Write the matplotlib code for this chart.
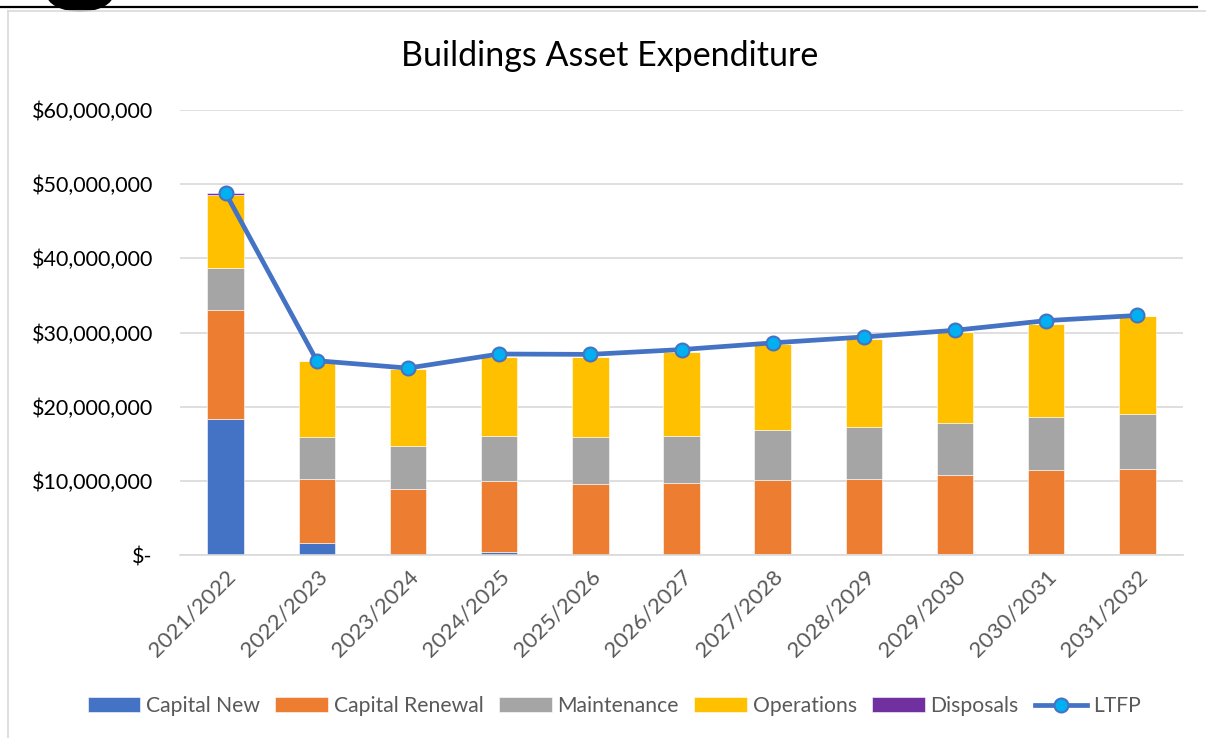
import numpy as np
import matplotlib
matplotlib.use("Agg")
from matplotlib import pyplot as plt
from matplotlib.patches import Ellipse
from matplotlib.lines import Line2D
from matplotlib.ticker import FuncFormatter

plt.rcParams['font.family'] = ['Lato', 'DejaVu Sans']

# values in $ millions
years = ['2021/2022', '2022/2023', '2023/2024', '2024/2025', '2025/2026', '2026/2027',
         '2027/2028', '2028/2029', '2029/2030', '2030/2031', '2031/2032']
capital_new = [18.3, 1.66, 0.05, 0.4, 0.05, 0.05, 0.15, 0.2, 0.2, 0.2, 0.2]
capital_renewal = [14.8, 8.6, 8.8, 9.6, 9.55, 9.7, 10.0, 10.1, 10.6, 11.2, 11.45]
maintenance = [5.6, 5.7, 5.85, 6.1, 6.3, 6.35, 6.65, 6.9, 7.05, 7.25, 7.4]
operations = [9.9, 10.15, 10.4, 10.6, 10.8, 11.3, 11.6, 11.9, 12.25, 12.55, 13.15]
disposals = [0.2, 0, 0, 0, 0, 0, 0, 0, 0, 0, 0]
ltfp = [48.8, 26.2, 25.2, 27.1, 27.05, 27.7, 28.6, 29.4, 30.3, 31.6, 32.3]

W, H = 1206, 738
fig = plt.figure(figsize=(W / 100, H / 100), dpi=100)

# page decorations around the pasted chart
fig.add_artist(Line2D([0, 1197 / W], [1 - 6.5 / H] * 2, color='black', lw=1.6))
fig.add_artist(Ellipse((80 / W, 1 + 6 / H), 66 / W, 34 / H, color='black'))
fig.add_artist(Line2D([8 / W, 1], [1 - 11 / H] * 2, color='#D9D9D9', lw=1.2))
fig.add_artist(Line2D([8 / W, 8 / W], [0, 1 - 11 / H], color='#D9D9D9', lw=1.2))

ax = fig.add_axes([180 / W, (H - 555) / H, (1183 - 180) / W, (555 - 110) / H])

x = np.arange(len(years))
series = [('Capital New', capital_new, '#4472C4'),
          ('Capital Renewal', capital_renewal, '#ED7D31'),
          ('Maintenance', maintenance, '#A5A5A5'),
          ('Operations', operations, '#FFC000'),
          ('Disposals', disposals, '#7030A0')]
bottom = np.zeros(len(years))
handles = []
for name, vals, col in series:
    b = ax.bar(x, vals, width=0.4, bottom=bottom, color=col, label=name,
               edgecolor='white', linewidth=0.4, zorder=2)
    handles.append(b)
    bottom += np.array(vals)

ln, = ax.plot(x, ltfp, color='#4472C4', lw=3.4, marker='o', markersize=10,
              markerfacecolor='#00B0F0', markeredgecolor='#4472C4', markeredgewidth=1.5,
              label='LTFP', zorder=3)
handles.append(ln)

ax.set_xlim(-0.5, len(years) - 0.5)
ax.set_ylim(0, 60)
ax.set_yticks(np.arange(0, 61, 10))
ax.yaxis.set_major_formatter(FuncFormatter(
    lambda v, p: '$-' if v == 0 else '${:,.0f}'.format(v * 1e6)))
ax.grid(axis='y', color='#D9D9D9', lw=1.2, zorder=0)
ax.set_axisbelow(True)
for s in ['top', 'right', 'left']:
    ax.spines[s].set_visible(False)
ax.spines['bottom'].set_color('#D9D9D9')
ax.spines['bottom'].set_linewidth(1.2)
ax.tick_params(axis='both', length=0)
ax.tick_params(axis='y', labelsize=15.5, pad=19.5, labelcolor='black')
ax.set_xticks(x)
ax.set_xticklabels(years, rotation=45, ha='right', va='top', rotation_mode='anchor',
                   fontsize=16, color='#595959')
ax.tick_params(axis='x', pad=8)

fig.text(610 / W, 1 - 56 / H, 'Buildings Asset Expenditure', fontsize=24.5,
         ha='center', va='center', color='black')

fig.legend(handles, [h.get_label() for h in handles], loc='center',
           bbox_to_anchor=(614 / W, 1 - 706 / H),
           ncol=6, frameon=False, fontsize=15.2, handlelength=2.5, handletextpad=0.25,
           columnspacing=0.75, labelcolor='#595959')

fig.savefig('out.png', dpi=100)
